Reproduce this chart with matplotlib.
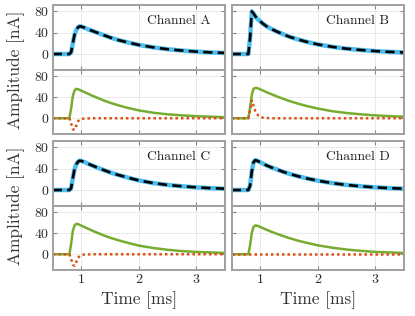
import matplotlib
matplotlib.use('Agg')
import matplotlib.pyplot as plt

plt.rcParams['font.family'] = 'serif'
plt.rcParams['font.serif'] = ['cmr10', 'DejaVu Serif']
plt.rcParams['axes.unicode_minus'] = False
plt.rcParams['mathtext.fontset'] = 'cm'

# Sample times [ms]
t = [0.50, 0.79, 0.82, 0.85, 0.88, 0.91, 0.94, 0.97, 1.00, 1.05, 1.10, 1.20,
	1.30, 1.40, 1.50, 1.65, 1.80, 2.00, 2.25, 2.50, 2.75, 3.00, 3.25, 3.50]

channels = ['Channel A', 'Channel B', 'Channel C', 'Channel D']

# Measured signal / fit [nA]
signal_a = [0, 0, 3, 20, 36, 45, 50, 52, 51.5, 49.5, 47, 43,
	39, 35, 31, 26, 22, 17, 12.5, 9, 6.5, 4.5, 3, 2]
signal_b = [0, 0, 30, 80, 76, 71, 67, 63.5, 61, 56.5, 52.5, 46.5,
	41.5, 37, 32.5, 27.5, 23, 18, 13.5, 10, 7.5, 5.5, 4, 3]
signal_c = [0, 0, 3, 22, 39, 48, 53, 55, 54.5, 52.5, 50, 45.5,
	41, 37, 33, 28, 23.5, 18, 13, 9.5, 7, 5, 3.5, 2.5]
signal_d = [0, 0, 8, 35, 52, 56, 55, 53.5, 52, 49, 46.5, 42,
	38, 34, 30.5, 26, 22, 17.5, 13, 9.5, 7, 5, 3.5, 2.5]

# Slow component (green)
slow_a = [0, 0, 18, 42, 53, 56, 55.5, 54, 52.5, 50, 47.5, 42.5,
	38, 33.5, 29.5, 24.5, 20, 15, 10.5, 7.5, 5.5, 4, 3, 2]
slow_b = [0, 0, 20, 45, 56, 58, 57.5, 56.5, 55, 52.5, 50, 45.5,
	41, 37, 33, 28, 23.5, 18.5, 13.5, 10, 7.5, 5.5, 4, 3]
slow_c = [0, 0, 19, 44, 55, 58, 57.5, 56, 54.5, 52, 49.5, 44.5,
	40, 35.5, 31.5, 26.5, 22, 16.5, 12, 8.5, 6, 4.5, 3.5, 2.5]
slow_d = [0, 0, 17, 41, 52, 55, 54.5, 53.5, 52, 49.5, 47, 42.5,
	38.5, 34.5, 31, 26, 22, 17, 12.5, 9, 6.5, 4.5, 3.5, 2.5]

# Fast component (orange)
fast_a = [0, 0, -10, -21, -22, -14, -6, -2.5, -1.2, -0.6, -0.3, 0,
	0, 0, 0, 0, 0, 0, 0, 0, 0, 0, 0, 0]
fast_b = [0, 0, 15, 34, 24, 14, 8, 4.5, 2.5, 1, 0.5, 0,
	0, 0, 0, 0, 0, 0, 0, 0, 0, 0, 0, 0]
fast_c = [0, 0, -9, -20, -22, -15, -7, -3, -1.4, -0.6, -0.3, 0,
	0, 0, 0, 0, 0, 0, 0, 0, 0, 0, 0, 0]
fast_d = [0, 0, 0, 0, 0, 0, 0, 0, 0, 0, 0, 0,
	0, 0, 0, 0, 0, 0, 0, 0, 0, 0, 0, 0]

signals = [signal_a, signal_b, signal_c, signal_d]
slows = [slow_a, slow_b, slow_c, slow_d]
fasts = [fast_a, fast_b, fast_c, fast_d]

yticks = [0, 40, 80]
xticks = [1, 2, 3]

c_meas = '#4DBEEE'
c_slow = '#77AC30'
c_fast = '#D95319'
c_frame = '#a0a0a0'

W, H = 415.0, 316.0
fig = plt.figure(figsize = (W / 100, H / 100), dpi = 100)

# panel boxes in pixels: left/right, top/bottom
cols = [(52.7, 225.0), (231.7, 404.0)]
rows = [(5, 70), (70, 134), (141, 206), (206, 270)]


def styleAxes(ax, show_x, show_y):
	ax.set_xlim(0.5, 3.5)
	ax.set_ylim(-30, 92)
	ax.set_xticks(xticks)
	ax.set_yticks(yticks)
	ax.grid(True, color = '#e6e6e6', linewidth = 0.6)
	ax.set_axisbelow(True)
	for s in ax.spines.values():
		s.set_color(c_frame)
		s.set_linewidth(1.4)
	ax.tick_params(direction = 'in', length = 3, width = 0.8, color = '#888888',
		top = True, right = True, labelsize = 10, labelcolor = '#2a2a2a', pad = 3)
	if not show_x:
		ax.set_xticklabels([])
	if not show_y:
		ax.set_yticklabels([])


def makeAxes(col, row):
	x0, x1 = cols[col]
	y0, y1 = rows[row]
	return fig.add_axes([x0 / W, 1 - y1 / H, (x1 - x0) / W, (y1 - y0) / H])


for i in range(4):
	col = i % 2
	grp = i // 2
	ax_sig = makeAxes(col, grp * 2)
	ax_cmp = makeAxes(col, grp * 2 + 1)

	ax_sig.plot(t, signals[i], color = c_meas, linewidth = 3.2, solid_joinstyle = 'round')
	ax_sig.plot(t, signals[i], color = 'black', linewidth = 1.9, linestyle = (0, (3.5, 2)))
	ax_sig.text(0.915, 0.75, channels[i], transform = ax_sig.transAxes,
		ha = 'right', va = 'center', fontsize = 9.8, color = '#222222')

	ax_cmp.plot(t, slows[i], color = c_slow, linewidth = 1.8)
	ax_cmp.plot(t, fasts[i], color = c_fast, linewidth = 1.8, linestyle = (0, (1, 1.2)))

	styleAxes(ax_sig, False, col == 0)
	styleAxes(ax_cmp, grp == 1, col == 0)

fig.text(16 / W, 1 - 70 / H, 'Amplitude [nA]', rotation = 90, ha = 'center', va = 'center',
	fontsize = 12.5, color = '#333333')
fig.text(16 / W, 1 - 206 / H, 'Amplitude [nA]', rotation = 90, ha = 'center', va = 'center',
	fontsize = 12.5, color = '#333333')
fig.text(139 / W, 1 - 300 / H, 'Time [ms]', ha = 'center', va = 'center',
	fontsize = 12.5, color = '#333333')
fig.text(318 / W, 1 - 300 / H, 'Time [ms]', ha = 'center', va = 'center',
	fontsize = 12.5, color = '#333333')

fig.savefig('out.png', dpi = 100)
plt.close()
